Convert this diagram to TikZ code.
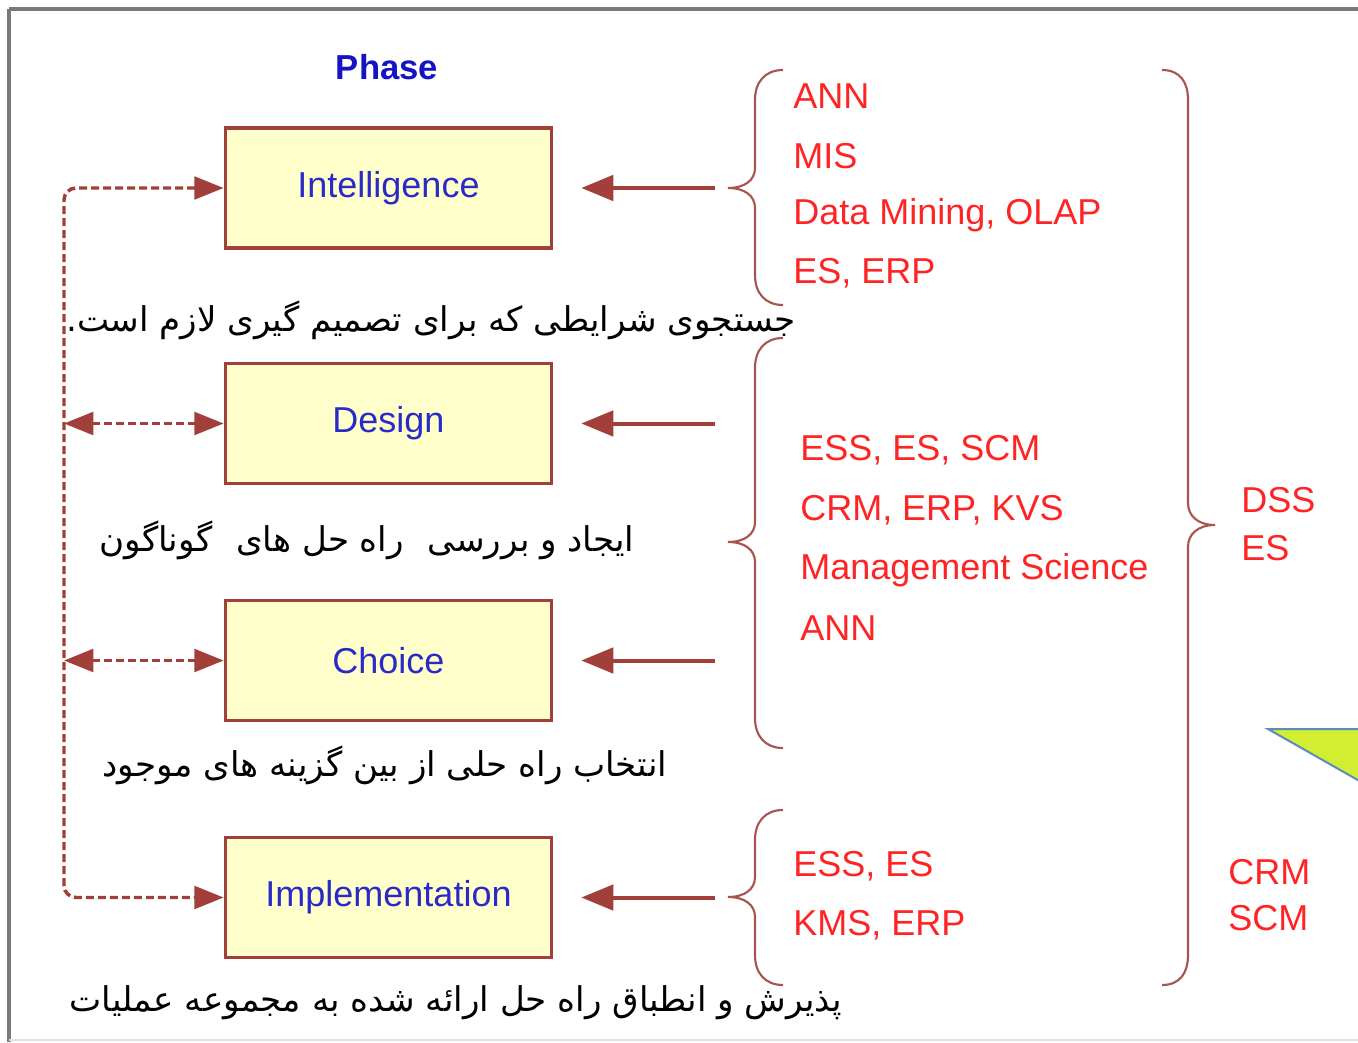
\documentclass[tikz,border=0pt]{standalone}
\usepackage{fontspec}
\setmainfont{Liberation Sans}
\newfontfamily\fa[Script=Arabic]{DejaVu Sans}
\TeXXeTstate=1
\usetikzlibrary{arrows.meta}

\definecolor{boxline}{HTML}{A23F3A}
\definecolor{boxfill}{HTML}{FFFFCC}
\definecolor{labelblue}{HTML}{2A2AC8}
\definecolor{titleblue}{HTML}{1414C4}
\definecolor{toolred}{HTML}{FF2424}
\definecolor{bracecol}{HTML}{A85550}
\definecolor{framegray}{HTML}{7A7A7A}
\definecolor{wedgefill}{HTML}{D2EE30}
\definecolor{wedgeline}{HTML}{5A8CBE}

\tikzset{
  phasebox/.style={draw=boxline, fill=boxfill, line width=2.3pt,
    minimum width=245pt, minimum height=90pt, inner sep=0pt,
    text=labelblue, font=\fontsize{27}{30}\selectfont},
  feedarrow/.style={draw=boxline, line width=3pt,
    -{Triangle[length=24pt,width=19pt]}},
  loopline/.style={draw=boxline, line width=2.6pt, dash pattern=on 6pt off 3pt},
  looptip/.style={{Triangle[length=22pt,width=17pt]}-{Triangle[length=22pt,width=17pt]}},
  bracepath/.style={draw=bracecol, line width=1.6pt},
  tool/.style={text=toolred, anchor=west, inner sep=0pt,
    font=\fontsize{27}{30}\selectfont},
  note/.style={inner sep=0pt, font=\fa\fontsize{25.6}{30}\selectfont}
}

\begin{document}
\begin{tikzpicture}[x=0.75pt, y=-0.75pt]
\useasboundingbox (0,0) rectangle (1358,1042);
\clip (0,0) rectangle (1358,1042);
\fill[white] (0,0) rectangle (1358,1042);

% frame lines
\draw[framegray, line width=2.4pt] (9,9) -- (1358,9);
\draw[framegray, line width=2.4pt] (9,9) -- (9,1042);
\draw[black!12, line width=1pt] (9,1040) -- (1358,1040);

% heading
\node[text=titleblue, font=\bfseries\fontsize{26}{30}\selectfont] (phase) at (387,67) {Phase};

% phase boxes
\node[phasebox] (intel)  at (388.5,188) {Intelligence};
\node[phasebox] (design) at (388.5,423.5) {Design};
\node[phasebox] (choice) at (388.5,660.5) {Choice};
\node[phasebox] (impl)   at (388.5,897.5) {Implementation};

% feedback loop on the left
\coordinate (lcI) at (64,188);
\coordinate (lcM) at (64,897.5);
\coordinate (lcD) at (64,423.5);
\coordinate (lcC) at (64,660.5);
\draw[loopline, looptip, rounded corners=9pt] (intel.west) -- (lcI) -- (lcM) -- (impl.west);
\draw[loopline, looptip] (lcD) -- (design.west);
\draw[loopline, looptip] (lcC) -- (choice.west);

% inputs from the tool groups
\coordinate (inI) at (715,188);
\coordinate (inD) at (715,423.5);
\coordinate (inC) at (715,660.5);
\coordinate (inM) at (715,897.5);
\draw[feedarrow, shorten >=21pt] (inI) -- (intel.east);
\draw[feedarrow, shorten >=21pt] (inD) -- (design.east);
\draw[feedarrow, shorten >=21pt] (inC) -- (choice.east);
\draw[feedarrow, shorten >=21pt] (inM) -- (impl.east);

% braces
\draw[bracepath] (783,70) .. controls (765,70) and (755,82) .. (755,100) -- (755,168)
  .. controls (755,180) and (745,188) .. (728,188)
  .. controls (745,188) and (755,196) .. (755,208) -- (755,275)
  .. controls (755,293) and (765,305) .. (783,305);
\draw[bracepath] (783,338) .. controls (765,338) and (755,350) .. (755,368) -- (755,522)
  .. controls (755,534) and (745,542) .. (728,542)
  .. controls (745,542) and (755,550) .. (755,562) -- (755,718)
  .. controls (755,736) and (765,748) .. (783,748);
\draw[bracepath] (783,810) .. controls (765,810) and (755,822) .. (755,840) -- (755,877)
  .. controls (755,889) and (745,897) .. (728,897)
  .. controls (745,897) and (755,905) .. (755,917) -- (755,955)
  .. controls (755,973) and (765,985) .. (783,985);
\draw[bracepath] (1162,70) .. controls (1180,70) and (1188,82) .. (1188,100) -- (1188,503)
  .. controls (1188,516) and (1198,525) .. (1215,525)
  .. controls (1198,525) and (1188,534) .. (1188,547) -- (1188,955)
  .. controls (1188,973) and (1180,985) .. (1162,985);

% tool groups
\node[tool] (t1a) at (793,96)  {ANN};
\node[tool] (t1b) at (793,156) {MIS};
\node[tool] (t1c) at (793,215) {Data Mining, OLAP};
\node[tool] (t1d) at (793,273) {ES, ERP};

\node[tool] (t2a) at (800,450) {ESS, ES, SCM};
\node[tool] (t2b) at (800,510) {CRM, ERP, KVS};
\node[tool] (t2c) at (800,570) {Management Science};
\node[tool] (t2d) at (800,628) {ANN};

\node[tool] (t3a) at (793,866) {ESS, ES};
\node[tool] (t3b) at (793,925) {KMS, ERP};

\node[tool] (t4a) at (1241,500) {DSS};
\node[tool] (t4b) at (1241,548) {ES};
\node[tool] (t4c) at (1228,872) {CRM};
\node[tool] (t4d) at (1228,918) {SCM};

% phase descriptions
\node[note] (n1) at (431,320)  {\beginR جستجوی شرایطی که برای تصمیم گیری لازم است.\endR};
\node[note] (n2) at (367,540)  {\beginR ایجاد و بررسی\hspace{0.7em}راه حل های\hspace{0.7em}گوناگون\endR};
\node[note] (n3) at (385,765)  {\beginR انتخاب راه حلی از بین گزینه های موجود\endR};
\node[note] (n4) at (456,1003) {\beginR پذیرش و انطباق راه حل ارائه شده به مجموعه عملیات\endR};

% corner wedge
\filldraw[fill=wedgefill, draw=wedgeline, line width=1.5pt]
  (1268,729) -- (1400,729) -- (1400,804) -- cycle;
\end{tikzpicture}
\end{document}
